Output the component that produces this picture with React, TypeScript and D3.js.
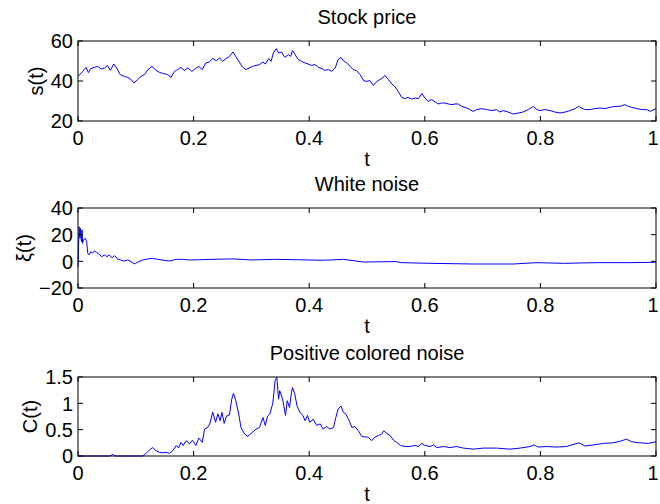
import React, { useEffect, useRef } from "react";
import * as d3 from "d3";

// stock price s(t)
const priceT = [0, 0.008, 0.014, 0.018, 0.022, 0.028, 0.034, 0.04, 0.046, 0.051, 0.056, 0.062, 0.067, 0.073, 0.08, 0.086, 0.092, 0.097, 0.103, 0.109, 0.115, 0.121, 0.128, 0.135, 0.141, 0.148, 0.155, 0.161, 0.167, 0.172, 0.178, 0.184, 0.19, 0.197, 0.203, 0.209, 0.215, 0.221, 0.227, 0.233, 0.239, 0.245, 0.25, 0.256, 0.262, 0.268, 0.273, 0.279, 0.285, 0.291, 0.296, 0.302, 0.308, 0.314, 0.32, 0.324, 0.33, 0.334, 0.338, 0.343, 0.347, 0.352, 0.358, 0.364, 0.368, 0.371, 0.375, 0.381, 0.387, 0.393, 0.398, 0.404, 0.41, 0.416, 0.422, 0.427, 0.433, 0.439, 0.445, 0.45, 0.455, 0.459, 0.465, 0.471, 0.476, 0.482, 0.488, 0.494, 0.499, 0.505, 0.511, 0.517, 0.522, 0.527, 0.531, 0.537, 0.543, 0.548, 0.554, 0.56, 0.566, 0.571, 0.577, 0.583, 0.589, 0.595, 0.6, 0.606, 0.612, 0.618, 0.623, 0.629, 0.635, 0.641, 0.647, 0.652, 0.658, 0.664, 0.67, 0.675, 0.678, 0.684, 0.69, 0.698, 0.707, 0.716, 0.724, 0.73, 0.736, 0.744, 0.753, 0.762, 0.77, 0.779, 0.788, 0.794, 0.799, 0.808, 0.817, 0.825, 0.834, 0.843, 0.851, 0.86, 0.866, 0.871, 0.877, 0.886, 0.894, 0.903, 0.912, 0.92, 0.929, 0.938, 0.946, 0.952, 0.958, 0.967, 0.975, 0.984, 0.99, 1];
const priceS = [42.3, 44.8, 46.8, 44.2, 46.2, 46.8, 47.3, 46, 46.5, 47.8, 45.3, 48.5, 46.5, 43.2, 42.3, 41.8, 40.7, 39, 40.7, 42.3, 43.2, 45.7, 47.3, 45.3, 44.3, 43.7, 43.2, 41.8, 44.8, 45.7, 46.8, 45.3, 46.5, 44.8, 46.2, 47.3, 45.7, 49, 49.5, 51.2, 50.2, 51.5, 49.8, 51.2, 52.3, 54.5, 52.3, 49.5, 46.8, 45.7, 46.5, 47.3, 47.8, 48.2, 49.5, 48.5, 51.2, 49.8, 54, 56.2, 54, 54.5, 51.8, 53.2, 52.3, 55.2, 53.5, 50.7, 49.8, 49, 48.5, 47.8, 48.2, 46.8, 46.2, 45.3, 45.7, 44.8, 46.5, 50.7, 51.8, 50.2, 49, 47.3, 45.7, 45.2, 43.2, 40.2, 39.8, 40.2, 37.8, 39.8, 40.7, 41.5, 42.8, 40.7, 38.5, 37.3, 34.8, 31.8, 31.2, 31.8, 31, 31.5, 31.2, 33.7, 31.5, 29.8, 30.7, 29.5, 28.5, 29, 29, 28.5, 28.2, 28.5, 28.5, 27.3, 26.8, 26.2, 25.7, 24.8, 25.7, 26.2, 25.7, 25.2, 25.7, 24.5, 25.2, 24.5, 23.5, 24, 24.5, 25.7, 27.3, 25.7, 25.2, 25.7, 25.2, 24.5, 24, 24.5, 25.2, 26.2, 27.3, 26.5, 25.7, 25.7, 26.2, 26.5, 26.2, 26.8, 27.3, 27.3, 28.2, 27.3, 26.8, 26.2, 25.7, 25.7, 24.8, 26.2];

// white noise xi(t)
const noiseT = [0, 0.002, 0.0035, 0.0045, 0.006, 0.007, 0.008, 0.009, 0.013, 0.015, 0.017, 0.019, 0.0225, 0.025, 0.028, 0.032, 0.037, 0.041, 0.046, 0.05, 0.054, 0.059, 0.063, 0.069, 0.074, 0.08, 0.086, 0.092, 0.097, 0.103, 0.112, 0.12, 0.129, 0.138, 0.146, 0.158, 0.17, 0.181, 0.193, 0.21, 0.24, 0.27, 0.3, 0.34, 0.38, 0.42, 0.436, 0.459, 0.494, 0.55, 0.56, 0.61, 0.684, 0.753, 0.794, 0.84, 0.898, 0.955, 1];
const noiseXi = [-4, 26, 17.2, 24.7, 14.7, 23.5, 13.5, 16, 17.2, 14.7, 6, 4.8, 7.2, 6, 7.8, 6.7, 5.2, 3.5, 4.8, 3.5, 4.8, 2.7, 4.2, 1.7, 1, 0.2, 1, -0.2, -2, -0.7, 1, 1.7, 2.2, 1.5, 1, 0.2, 1.5, 1.5, 1, 1.2, 1.6, 1.8, 1, 1.5, 1.2, 0.8, 1, 1.5, -0.5, -0.2, -1, -1.5, -2, -2, -1, -1.5, -1, -1, -0.7];

// positive colored noise C(t)
const colorT = [0, 0.055, 0.06, 0.065, 0.112, 0.118, 0.123, 0.129, 0.135, 0.141, 0.147, 0.152, 0.158, 0.164, 0.17, 0.174, 0.178, 0.182, 0.187, 0.193, 0.198, 0.204, 0.209, 0.215, 0.219, 0.224, 0.228, 0.233, 0.238, 0.242, 0.246, 0.249, 0.253, 0.257, 0.262, 0.266, 0.269, 0.273, 0.278, 0.282, 0.288, 0.294, 0.296, 0.302, 0.308, 0.314, 0.32, 0.324, 0.328, 0.332, 0.337, 0.341, 0.344, 0.347, 0.349, 0.354, 0.359, 0.362, 0.366, 0.368, 0.371, 0.375, 0.379, 0.384, 0.389, 0.393, 0.397, 0.401, 0.407, 0.413, 0.419, 0.424, 0.43, 0.436, 0.442, 0.446, 0.45, 0.455, 0.459, 0.463, 0.468, 0.474, 0.479, 0.485, 0.491, 0.497, 0.502, 0.508, 0.514, 0.52, 0.525, 0.529, 0.534, 0.54, 0.546, 0.551, 0.558, 0.566, 0.574, 0.583, 0.589, 0.595, 0.6, 0.609, 0.615, 0.621, 0.632, 0.644, 0.655, 0.667, 0.684, 0.701, 0.724, 0.747, 0.765, 0.782, 0.789, 0.796, 0.811, 0.828, 0.845, 0.86, 0.867, 0.877, 0.892, 0.909, 0.926, 0.938, 0.949, 0.958, 0.972, 0.987, 1];
const colorC = [0, 0, 0.03, 0, 0, 0.05, 0.11, 0.16, 0.1, 0.07, 0.06, 0.07, 0.05, 0.1, 0.2, 0.15, 0.26, 0.2, 0.29, 0.23, 0.3, 0.2, 0.34, 0.26, 0.51, 0.54, 0.61, 0.83, 0.64, 0.8, 0.67, 0.83, 0.62, 0.76, 0.78, 1.08, 1.19, 1.05, 0.8, 0.54, 0.42, 0.37, 0.4, 0.45, 0.51, 0.54, 0.73, 0.58, 0.76, 0.8, 1.0, 1.43, 1.49, 1.08, 1.24, 1.08, 0.77, 1.05, 0.92, 1.11, 1.3, 1.18, 0.95, 0.83, 0.77, 0.67, 0.77, 0.64, 0.7, 0.58, 0.61, 0.51, 0.56, 0.51, 0.54, 0.73, 0.89, 0.95, 0.83, 0.8, 0.7, 0.54, 0.56, 0.48, 0.37, 0.36, 0.36, 0.29, 0.36, 0.39, 0.41, 0.48, 0.43, 0.39, 0.3, 0.26, 0.2, 0.18, 0.18, 0.2, 0.18, 0.24, 0.2, 0.18, 0.21, 0.16, 0.18, 0.16, 0.18, 0.15, 0.13, 0.15, 0.15, 0.13, 0.15, 0.18, 0.21, 0.17, 0.18, 0.17, 0.18, 0.23, 0.25, 0.19, 0.21, 0.24, 0.25, 0.28, 0.32, 0.27, 0.25, 0.24, 0.27];

const xTicks = [0, 0.2, 0.4, 0.6, 0.8, 1];
const priceTicks = [20, 40, 60];
const noiseTicks = [-20, 0, 20, 40];
const colorTicks = [0, 0.5, 1, 1.5];

const fmt = (v: number) => (v < 0 ? "\u2212" + Math.abs(v) : String(v));

function App() {
  const svgRef = useRef<SVGSVGElement>(null);

  useEffect(() => {
    const svg = d3.select(svgRef.current);
    svg.selectAll("*").remove();
    const font = "'Liberation Sans', Arial, Helvetica, sans-serif";
    const left = 78;
    const right = 656;
    const tickLen = 5;

    const x = d3.scaleLinear().domain([0, 1]).range([left, right]);

    const panels = [
      { top: 41, bottom: 121, domain: [20, 60], ticks: priceTicks, t: priceT, v: priceS, title: "Stock price", ylabel: "s(t)", ylabelX: 43 },
      { top: 208, bottom: 288, domain: [-20, 40], ticks: noiseTicks, t: noiseT, v: noiseXi, title: "White noise", ylabel: "\u03be(t)", ylabelX: 31 },
      { top: 377, bottom: 456, domain: [0, 1.5], ticks: colorTicks, t: colorT, v: colorC, title: "Positive colored noise", ylabel: "C(t)", ylabelX: 37 },
    ];

    panels.forEach((p) => {
      const y = d3.scaleLinear().domain(p.domain).range([p.bottom, p.top]);
      const g = svg.append("g");

      // data line
      const line = d3
        .line<number>()
        .x((d, i) => x(p.t[i]))
        .y((d) => y(d));
      g.append("path")
        .attr("d", line(p.v))
        .attr("fill", "none")
        .attr("stroke", "#0000ff")
        .attr("stroke-width", 1);

      // box
      g.append("rect")
        .attr("x", left)
        .attr("y", p.top)
        .attr("width", right - left)
        .attr("height", p.bottom - p.top)
        .attr("fill", "none")
        .attr("stroke", "#000")
        .attr("stroke-width", 1);

      // x ticks (inward, top and bottom)
      xTicks.forEach((t) => {
        g.append("line").attr("x1", x(t)).attr("x2", x(t)).attr("y1", p.bottom).attr("y2", p.bottom - tickLen).attr("stroke", "#000");
        g.append("line").attr("x1", x(t)).attr("x2", x(t)).attr("y1", p.top).attr("y2", p.top + tickLen).attr("stroke", "#000");
        // last label would spill past the window edge, keep it just inside
        const tx = Math.min(x(t), 653);
        g.append("text")
          .attr("x", tx)
          .attr("y", p.bottom + 24)
          .attr("text-anchor", "middle")
          .style("font-family", font)
          .style("font-size", "20px")
          .text(fmt(t));
      });

      // y ticks (inward, left and right)
      p.ticks.forEach((v) => {
        g.append("line").attr("x1", left).attr("x2", left + tickLen).attr("y1", y(v)).attr("y2", y(v)).attr("stroke", "#000");
        g.append("line").attr("x1", right).attr("x2", right - tickLen).attr("y1", y(v)).attr("y2", y(v)).attr("stroke", "#000");
        g.append("text")
          .attr("x", left - 5)
          .attr("y", y(v))
          .attr("dy", "0.36em")
          .attr("text-anchor", "end")
          .style("font-family", font)
          .style("font-size", "20px")
          .text(fmt(v));
      });

      // title
      g.append("text")
        .attr("x", (left + right) / 2)
        .attr("y", p.top - 17)
        .attr("text-anchor", "middle")
        .style("font-family", font)
        .style("font-size", "20px")
        .text(p.title);

      // x label
      g.append("text")
        .attr("x", (left + right) / 2)
        .attr("y", p.bottom + 45)
        .attr("text-anchor", "middle")
        .style("font-family", font)
        .style("font-size", "20px")
        .text("t");

      // y label
      const cy = (p.top + p.bottom) / 2;
      g.append("text")
        .attr("transform", `translate(${p.ylabelX},${cy}) rotate(-90)`)
        .attr("text-anchor", "middle")
        .style("font-family", font)
        .style("font-size", "20px")
        .text(p.ylabel);
    });
  }, []);

  return (
    <div style={{ position: "absolute", left: 0, top: 0 }}>
      <svg ref={svgRef} width={660} height={504} style={{ display: "block", background: "#fff" }}></svg>
    </div>
  );
}

export default App;
